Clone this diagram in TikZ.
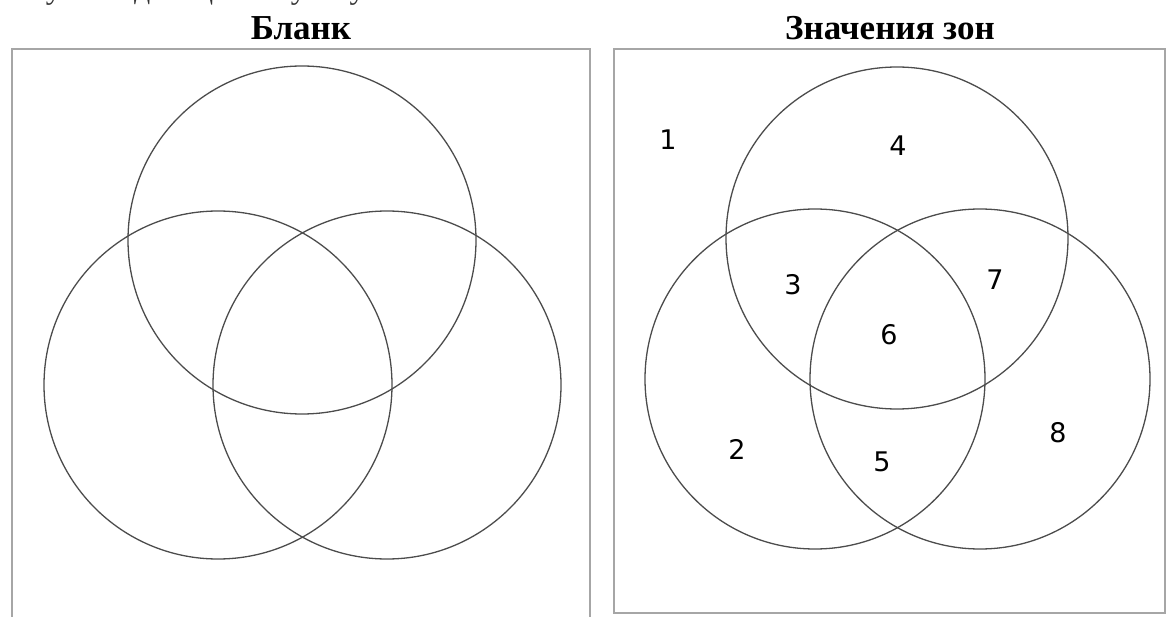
\documentclass[tikz,border=0pt]{standalone}
\usepackage{fontspec}
\setmainfont{Liberation Serif}
\newfontfamily\digitfont{DejaVu Sans}
\begin{document}
\begin{tikzpicture}[x=1pt,y=-1pt,
  frame/.style={draw=black!35,line width=1.8pt},
  venn/.style={draw=black!70,line width=1.3pt},
  title/.style={font=\bfseries\fontsize{35}{38}\selectfont,anchor=base},
  zone/.style={font=\digitfont\fontsize{27}{30}\selectfont,text=black}]
\useasboundingbox (0,0) rectangle (1169,617);
\begin{scope}
\clip (0,0) rectangle (1169,617);
\node[anchor=base west,font=\fontsize{32}{34}\selectfont,text=black!80,inner sep=0pt] (cut) at (0,-1) {зону попадающие в булеву «В»};
\end{scope}
% left panel
\node[title] (t1) at (301,40) {Бланк};
\draw[frame] (12,630) -- (12,49) -- (590,49) -- (590,630);
\draw[venn] (302,240) circle[radius=174];
\draw[venn] (218,385) circle[radius=174];
\draw[venn] (387,385) circle[radius=174];
% right panel
\node[title] (t2) at (890,40) {Значения зон};
\draw[frame] (614,49) rectangle (1165,613);
\draw[venn] (897,238) circle[radius=171];
\draw[venn] (815,379) circle[radius=170];
\draw[venn] (980,379) circle[radius=170];
\node[zone] (z1) at (668,140) {1};
\node[zone] (z4) at (898,146) {4};
\node[zone] (z3) at (793,285) {3};
\node[zone] (z7) at (995,280) {7};
\node[zone] (z6) at (889,335) {6};
\node[zone] (z2) at (737,449) {2};
\node[zone] (z5) at (882,462) {5};
\node[zone] (z8) at (1058,433) {8};
\end{tikzpicture}
\end{document}
